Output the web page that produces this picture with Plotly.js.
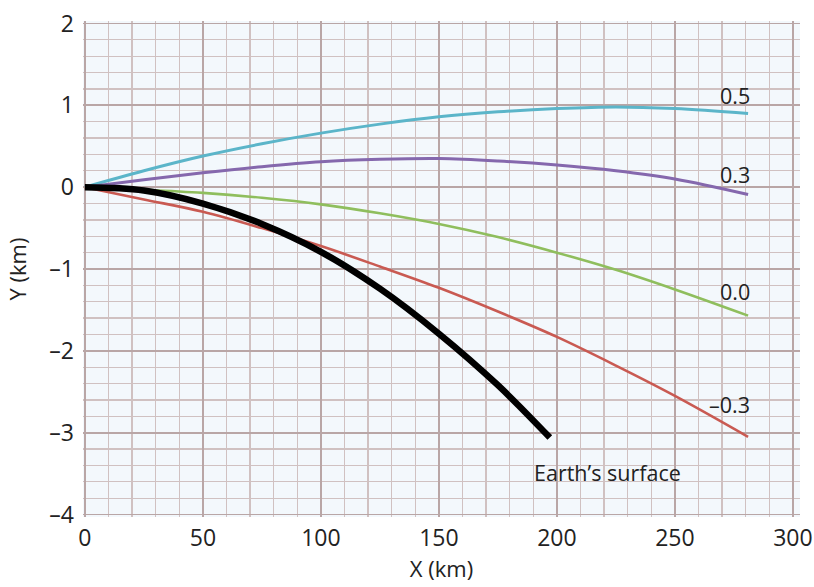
<!DOCTYPE html>
<html>
<head>
<meta charset="utf-8">
<script src="https://cdn.plot.ly/plotly-3.0.1.min.js"></script>
<style>html,body{margin:0;padding:0;background:#fff;}#chart{width:814px;height:587px;}</style>
</head>
<body>
<div id="chart"></div>
<script>
// Data (X and Y in km)
const xCurve = [0, 25, 50, 75, 100, 125, 150, 175, 200, 225, 250, 281];
const y05  = [0, 0.20, 0.38, 0.53, 0.66, 0.77, 0.86, 0.92, 0.96, 0.98, 0.96, 0.90];
const y03  = [0, 0.09, 0.175, 0.25, 0.31, 0.34, 0.35, 0.32, 0.27, 0.20, 0.10, -0.09];
const y00  = [0, -0.03, -0.07, -0.13, -0.21, -0.32, -0.45, -0.61, -0.80, -1.01, -1.25, -1.57];
const yM03 = [0, -0.15, -0.30, -0.50, -0.72, -0.97, -1.23, -1.52, -1.83, -2.18, -2.55, -3.05];
const xEarth = [0, 25, 50, 75, 100, 125, 150, 175, 197];
const yEarth = [0, -0.04, -0.20, -0.45, -0.79, -1.24, -1.79, -2.42, -3.06];

const curveLabels = ["0.5", "0.3", "0.0", "–0.3", "Earth’s surface"];
const labelX = [275.5, 275.5, 275.5, 273, 221.5];
const labelY = [1.12, 0.15, -1.28, -2.66, -3.49];

const xTickVals = [0, 50, 100, 150, 200, 250, 300];
const xTickText = ["0", "50", "100", "150", "200", "250", "300"];
const yTickVals = [-4, -3, -2, -1, 0, 1, 2];
const yTickText = ["–4", "–3", "–2", "–1", "0", "1", "2"];

const FONT = "Open Sans, Noto Sans, sans-serif";

function line(x, y, color, width) {
  return {x: x, y: y, type: "scatter", mode: "lines",
    line: {color: color, width: width, shape: "spline", smoothing: 1},
    hoverinfo: "skip", showlegend: false};
}

const traces = [
  line(xCurve, y05, "#5bb5c9", 3),
  line(xCurve, y03, "#8568ad", 3),
  line(xCurve, y00, "#8fbe5d", 2.6),
  line(xCurve, yM03, "#c95a52", 2.6),
  line(xEarth, yEarth, "#000000", 6.5)
];

const annotations = curveLabels.map((t, i) => ({
  x: labelX[i], y: labelY[i], xref: "x", yref: "y", text: t, showarrow: false,
  font: {family: FONT, size: 21.5, color: "#222"}, xanchor: "center", yanchor: "middle"
}));

const layout = {
  width: 814, height: 587,
  margin: {l: 83, r: 14, t: 21, b: 70},
  paper_bgcolor: "#ffffff",
  plot_bgcolor: "#f3f8fc",
  font: {family: FONT, size: 21, color: "#222"},
  xaxis: {
    range: [-0.8, 303], tickvals: xTickVals, ticktext: xTickText,
    showgrid: true, gridcolor: "#b9a6a6", gridwidth: 1.7,
    minor: {dtick: 10, tick0: 0, showgrid: true, gridcolor: "#d0c1c1", gridwidth: 1.3},
    zeroline: false, showline: false, ticks: "", ticklabelstandoff: 5,
    tickfont: {family: FONT, size: 23, color: "#222"},
    title: {text: "X (km)", font: {family: FONT, size: 22, color: "#222"}, standoff: 9}
  },
  yaxis: {
    range: [-4.03, 2.03], tickvals: yTickVals, ticktext: yTickText,
    showgrid: true, gridcolor: "#b9a6a6", gridwidth: 1.7,
    minor: {dtick: 0.2, tick0: 0, showgrid: true, gridcolor: "#d0c1c1", gridwidth: 1.3},
    zeroline: false, showline: false, ticks: "", ticklabelstandoff: 8,
    tickfont: {family: FONT, size: 23, color: "#222"},
    title: {text: "Y (km)", font: {family: FONT, size: 22, color: "#222"}, standoff: 16}
  },
  annotations: annotations,
  showlegend: false
};

Plotly.newPlot("chart", traces, layout, {displayModeBar: false, staticPlot: true});
</script>
</body>
</html>
